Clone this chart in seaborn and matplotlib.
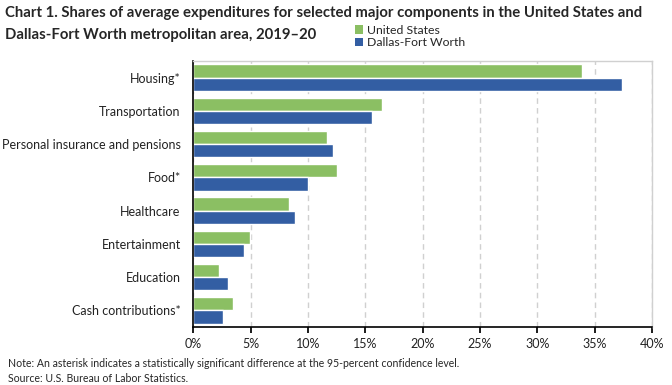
import matplotlib
matplotlib.use("Agg")
import matplotlib.pyplot as plt
import seaborn as sns
import pandas as pd
from matplotlib.ticker import FuncFormatter, MultipleLocator
from matplotlib.patches import Patch

categories = ["Housing*", "Transportation", "Personal insurance and pensions", "Food*",
              "Healthcare", "Entertainment", "Education", "Cash contributions*"]
us_values = [33.9, 16.5, 11.7, 12.55, 8.35, 4.95, 2.25, 3.45]
dfw_values = [37.4, 15.6, 12.2, 10.0, 8.9, 4.4, 3.0, 2.6]
series_names = ["United States", "Dallas-Fort Worth"]
colors = ["#8BBF63", "#335EA3"]

df = pd.DataFrame({
    "category": categories * 2,
    "value": us_values + dfw_values,
    "series": [series_names[0]] * len(categories) + [series_names[1]] * len(categories),
})

sns.set_theme(style="white")
plt.rcParams["font.family"] = ["Lato", "DejaVu Sans"]

fig = plt.figure(figsize=(6.72, 3.85), dpi=100)
ax = fig.add_axes([0.2875, 0.1506, 0.6825, 0.691])

sns.barplot(data=df, y="category", x="value", hue="series", order=categories,
            hue_order=series_names, palette=colors, orient="h", width=0.8,
            saturation=1, ax=ax, legend=False)

ax.set_xlim(0, 40)
ax.xaxis.set_major_locator(MultipleLocator(5))
ax.xaxis.set_major_formatter(FuncFormatter(lambda v, p: f"{v:.0f}%"))
ax.set_xlabel("")
ax.set_ylabel("")
ax.grid(axis="x", color="#D0D0D0", linestyle=(0, (4, 3)), linewidth=1)
ax.set_axisbelow(True)
for s in ["top", "right"]:
    ax.spines[s].set_color("#D0D0D0")
    ax.spines[s].set_linewidth(1)
for s in ["left", "bottom"]:
    ax.spines[s].set_color("black")
    ax.spines[s].set_linewidth(1.2)
ax.tick_params(axis="x", bottom=True, direction="out", length=4, color="black",
               labelsize=9, pad=4, labelcolor="#222222")
ax.tick_params(axis="y", left=False, labelsize=9, pad=3, labelcolor="#222222")

fig.text(0.008, 0.965, "Chart 1. Shares of average expenditures for selected major components in the United States and",
         fontsize=10.7, fontweight="bold", va="center", ha="left")
fig.text(0.008, 0.908, "Dallas-Fort Worth metropolitan area, 2019\u201320",
         fontsize=10.7, fontweight="bold", va="center", ha="left")

handles = [Patch(facecolor=c, edgecolor="none") for c in colors]
fig.legend(handles, series_names, loc="upper left", bbox_to_anchor=(0.528, 0.935),
           frameon=False, fontsize=8.8, handlelength=0.7, handleheight=0.7,
           handletextpad=0.3, labelspacing=0.1, borderaxespad=0, borderpad=0)

fig.text(0.012, 0.057, "Note: An asterisk indicates a statistically significant difference at the 95-percent confidence level.",
         fontsize=7.6, va="center", ha="left")
fig.text(0.012, 0.017, "Source: U.S. Bureau of Labor Statistics.",
         fontsize=7.6, va="center", ha="left")

fig.savefig("out.png", dpi=100)
